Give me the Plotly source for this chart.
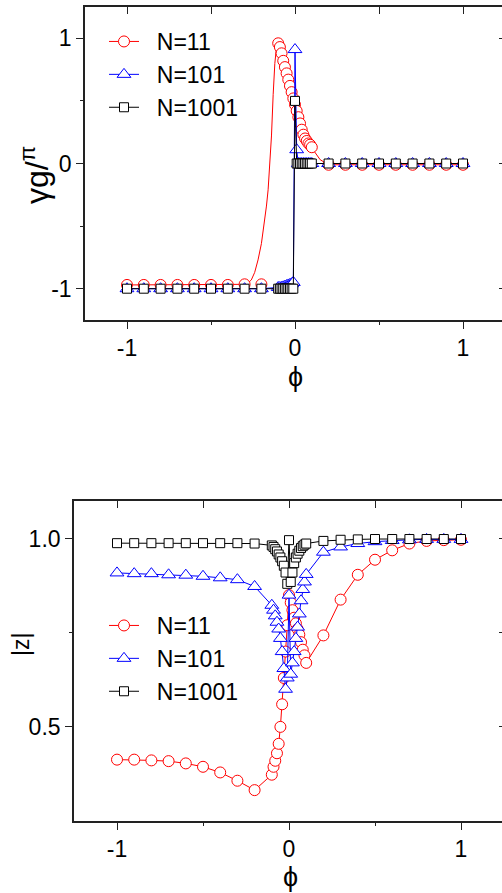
import plotly.graph_objects as go

# ---------------- top panel (gamma_g / pi) ----------------
top11_line_x = [-1.0, -0.9, -0.8, -0.7, -0.6, -0.5, -0.4, -0.3, -0.28, -0.26, -0.24, -0.22, -0.20,
                -0.19, -0.18, -0.17, -0.16, -0.15, -0.14, -0.13, -0.12, -0.11,
                -0.10, -0.09, -0.08, -0.07, -0.06, -0.05, -0.04, -0.03, -0.02, -0.01, 0.0,
                0.01, 0.02, 0.03, 0.04, 0.05, 0.06, 0.07, 0.08, 0.09, 0.10, 0.12, 0.15,
                0.2, 0.3, 0.4, 0.5, 0.6, 0.7, 0.8, 0.9, 1.0]
top11_line_y = [-0.97, -0.97, -0.97, -0.97, -0.97, -0.97, -0.97, -0.965, -0.955, -0.93, -0.87, -0.77, -0.64,
                -0.55, -0.45, -0.34, -0.21, -0.02, 0.22, 0.55, 0.80, 0.93,
                0.96, 0.93, 0.88, 0.82, 0.77, 0.72, 0.67, 0.62, 0.57, 0.52, 0.47,
                0.42, 0.37, 0.32, 0.27, 0.23, 0.20, 0.18, 0.16, 0.15, 0.13, 0.08, 0.03,
                -0.01, -0.01, -0.01, -0.01, -0.01, -0.01, -0.01, -0.01, -0.01]

top11_x = [-1.0, -0.9, -0.8, -0.7, -0.6, -0.5, -0.4, -0.3, -0.2,
           -0.10, -0.09, -0.08, -0.07, -0.06, -0.05, -0.04, -0.03, -0.02, -0.01, 0.0,
           0.01, 0.02, 0.03, 0.04, 0.05, 0.06, 0.07, 0.08, 0.09, 0.10,
           0.2, 0.3, 0.4, 0.5, 0.6, 0.7, 0.8, 0.9, 1.0]
top11_y = [-0.97, -0.97, -0.97, -0.97, -0.97, -0.97, -0.97, -0.965, -0.965,
           0.96, 0.93, 0.88, 0.82, 0.77, 0.72, 0.67, 0.62, 0.57, 0.52, 0.47,
           0.42, 0.37, 0.32, 0.27, 0.23, 0.20, 0.18, 0.16, 0.15, 0.13,
           -0.01, -0.01, -0.01, -0.01, -0.01, -0.01, -0.01, -0.01, -0.01]

top101_x = [-1.0, -0.9, -0.8, -0.7, -0.6, -0.5, -0.4, -0.3, -0.2, -0.1,
            -0.09, -0.08, -0.07, -0.06, -0.05, -0.04, -0.03, -0.02, -0.01, 0.0,
            0.01, 0.02, 0.03, 0.04, 0.05, 0.06, 0.07, 0.08, 0.09, 0.1,
            0.2, 0.3, 0.4, 0.5, 0.6, 0.7, 0.8, 0.9, 1.0]
top101_y = [-1.0, -1.0, -1.0, -1.0, -1.0, -1.0, -1.0, -1.0, -1.0, -0.99,
            -0.99, -0.99, -0.985, -0.98, -0.975, -0.97, -0.965, -0.96, -0.95, 0.91,
            0.11, 0.0, 0.0, 0.0, 0.0, 0.0, 0.0, 0.0, 0.0, 0.0,
            0.0, 0.0, 0.0, 0.0, 0.0, 0.0, 0.0, 0.0, 0.0]

top1001_x = [-1.0, -0.9, -0.8, -0.7, -0.6, -0.5, -0.4, -0.3, -0.2,
             -0.1, -0.09, -0.08, -0.07, -0.06, -0.05, -0.04, -0.03, -0.02, -0.01, 0.0,
             0.01, 0.02, 0.03, 0.04, 0.05, 0.06, 0.07, 0.08, 0.09, 0.1,
             0.2, 0.3, 0.4, 0.5, 0.6, 0.7, 0.8, 0.9, 1.0]
top1001_y = [-1.0, -1.0, -1.0, -1.0, -1.0, -1.0, -1.0, -1.0, -1.0,
             -1.0, -1.0, -1.0, -1.0, -1.0, -1.0, -1.0, -1.0, -1.0, -1.0, 0.5,
             0.0, 0.0, 0.0, 0.0, 0.0, 0.0, 0.0, 0.0, 0.0, 0.0,
             0.0, 0.0, 0.0, 0.0, 0.0, 0.0, 0.0, 0.0, 0.0]

# ---------------- bottom panel (|z|) ----------------
phi = [-1.0, -0.9, -0.8, -0.7, -0.6, -0.5, -0.4, -0.3, -0.2,
       -0.10, -0.09, -0.08, -0.07, -0.06, -0.05, -0.04, -0.03, -0.02, -0.01, 0.0,
       0.01, 0.02, 0.03, 0.04, 0.05, 0.06, 0.07, 0.08, 0.09, 0.10,
       0.2, 0.3, 0.4, 0.5, 0.6, 0.7, 0.8, 0.9, 1.0]
z11 = [0.413, 0.413, 0.411, 0.409, 0.403, 0.394, 0.379, 0.357, 0.332,
       0.373, 0.394, 0.410, 0.430, 0.455, 0.500, 0.560, 0.630, 0.700, 0.770, 0.850,
       0.830, 0.810, 0.790, 0.775, 0.760, 0.745, 0.725, 0.705, 0.690, 0.670,
       0.743, 0.838, 0.904, 0.944, 0.969, 0.987, 0.994, 0.996, 0.997]
z101 = [0.909, 0.907, 0.907, 0.904, 0.903, 0.900, 0.896, 0.891, 0.873,
        0.823, 0.810, 0.795, 0.778, 0.760, 0.735, 0.700, 0.655, 0.600, 0.630, 0.850,
        0.640, 0.670, 0.700, 0.735, 0.765, 0.800, 0.835, 0.865, 0.885, 0.905,
        0.964, 0.978, 0.987, 0.992, 0.995, 0.997, 0.998, 0.998, 0.998]
z1001 = [0.988, 0.988, 0.988, 0.988, 0.988, 0.988, 0.988, 0.988, 0.987,
         0.982, 0.978, 0.972, 0.966, 0.958, 0.950, 0.940, 0.928, 0.910, 0.880, 0.996,
         0.885, 0.910, 0.935, 0.950, 0.960, 0.968, 0.975, 0.980, 0.984, 0.987,
         0.994, 0.997, 0.998, 0.999, 0.999, 0.999, 0.999, 0.999, 0.999]

labels = ["N=11", "N=101", "N=1001"]
colors = ["#ff0000", "#0000ff", "#000000"]
symbols = ["circle", "triangle-up", "square"]
msizes = [11, 12, 9]

W, H = 502, 893
FONT = "Arial, Liberation Sans, sans-serif"
AX = "#222222"
PAD = "\u00a0\u00a0"

fig = go.Figure()

def mk(i):
    return dict(symbol=symbols[i], size=msizes[i], color="white",
                line=dict(color=colors[i], width=1))

# top panel
fig.add_trace(go.Scatter(x=top11_line_x, y=top11_line_y, mode="lines",
                         line=dict(color=colors[0], width=1), showlegend=False,
                         xaxis="x", yaxis="y"))
fig.add_trace(go.Scatter(x=top11_x, y=top11_y, mode="markers", marker=mk(0),
                         showlegend=False, xaxis="x", yaxis="y"))
fig.add_trace(go.Scatter(x=top101_x, y=top101_y, mode="lines+markers", marker=mk(1),
                         line=dict(color=colors[1], width=1), showlegend=False,
                         xaxis="x", yaxis="y"))
fig.add_trace(go.Scatter(x=top1001_x, y=top1001_y, mode="lines+markers", marker=mk(2),
                         line=dict(color=colors[2], width=1), showlegend=False,
                         xaxis="x", yaxis="y"))
# legend entries (top)
for i in range(3):
    fig.add_trace(go.Scatter(x=[None], y=[None], mode="lines+markers", name=PAD + labels[i],
                             marker=mk(i), line=dict(color=colors[i], width=1),
                             xaxis="x", yaxis="y", legend="legend"))

# bottom panel
for i, zz in enumerate([z11, z101, z1001]):
    fig.add_trace(go.Scatter(x=phi, y=zz, mode="lines+markers", name=PAD + labels[i],
                             marker=mk(i), line=dict(color=colors[i], width=1),
                             xaxis="x2", yaxis="y2", legend="legend2"))

# dummy traces to activate mirror axes
fig.add_trace(go.Scatter(x=[None], y=[None], xaxis="x3", yaxis="y", showlegend=False, hoverinfo="skip"))
fig.add_trace(go.Scatter(x=[None], y=[None], xaxis="x", yaxis="y3", showlegend=False, hoverinfo="skip"))
fig.add_trace(go.Scatter(x=[None], y=[None], xaxis="x4", yaxis="y2", showlegend=False, hoverinfo="skip"))
fig.add_trace(go.Scatter(x=[None], y=[None], xaxis="x2", yaxis="y4", showlegend=False, hoverinfo="skip"))

tickfont = dict(family=FONT, size=23, color="black")
base = dict(showgrid=False, zeroline=False, showline=True, linecolor=AX, linewidth=1.6,
            ticks="outside", ticklen=7, tickwidth=1.4, tickcolor=AX, tickfont=tickfont)

top_dom_y = [(H - 320) / H, (H - 7) / H]
bot_dom_y = [(H - 821) / H, (H - 501) / H]
top_xr = [-1.25, -1.25 + (W - 85) / 168.0]
bot_xr = [-1.25, -1.25 + (W - 74) / 172.0]

legfont = dict(family=FONT, size=23, color="black")

fig.update_layout(
    width=W, height=H, margin=dict(l=0, r=0, t=0, b=0),
    paper_bgcolor="white", plot_bgcolor="white",
    xaxis=dict(base, domain=[85 / W, 1], range=top_xr, anchor="y",
               tickvals=[-1, 0, 1], ticktext=["-1", "0", "1"],
               minor=dict(ticks="outside", ticklen=3.5, tickwidth=1.2, tickcolor=AX, tickvals=[-0.5, 0.5])),
    yaxis=dict(base, domain=top_dom_y, range=[-1.25, 1.25], anchor="x",
               tickvals=[-1, 0, 1], ticktext=["-1", "0", "1"],
               minor=dict(ticks="outside", ticklen=3.5, tickwidth=1.2, tickcolor=AX, tickvals=[-0.5, 0.5])),
    xaxis3=dict(showgrid=False, zeroline=False, showline=True, linecolor=AX, linewidth=1.6,
                overlaying="x", anchor="y", side="top", range=top_xr,
                ticks="inside", ticklen=7, tickwidth=1.4, tickcolor=AX,
                tickvals=[-1, -0.5, 0, 0.5, 1], showticklabels=False),
    yaxis3=dict(showgrid=False, zeroline=False, showline=False,
                overlaying="y", anchor="x", side="right", range=[-1.25, 1.25],
                ticks="inside", ticklen=3, tickwidth=1.4, tickcolor=AX,
                tickvals=[-1, 0, 1], showticklabels=False),
    xaxis2=dict(base, domain=[74 / W, 1], range=bot_xr, anchor="y2",
                tickvals=[-1, 0, 1], ticktext=["-1", "0", "1"],
                minor=dict(ticks="outside", ticklen=3.5, tickwidth=1.2, tickcolor=AX, tickvals=[-0.5, 0.5])),
    yaxis2=dict(base, domain=bot_dom_y, range=[0.25, 1.1], anchor="x2",
                tickvals=[0.5, 1.0], ticktext=["0.5", "1.0"],
                minor=dict(ticks="outside", ticklen=3.5, tickwidth=1.2, tickcolor=AX, tickvals=[0.75])),
    xaxis4=dict(showgrid=False, zeroline=False, showline=True, linecolor=AX, linewidth=1.6,
                overlaying="x2", anchor="y2", side="top", range=bot_xr,
                ticks="inside", ticklen=7, tickwidth=1.4, tickcolor=AX,
                tickvals=[-1, -0.5, 0, 0.5, 1], showticklabels=False),
    yaxis4=dict(showgrid=False, zeroline=False, showline=False,
                overlaying="y2", anchor="x2", side="right", range=[0.25, 1.1],
                ticks="inside", ticklen=3, tickwidth=1.4, tickcolor=AX,
                tickvals=[0.5, 0.75, 1.0], showticklabels=False),
    legend=dict(x=104 / W, y=(H - 20) / H, xanchor="left", yanchor="top",
                bgcolor="rgba(0,0,0,0)", font=legfont,
                itemclick=False, itemdoubleclick=False),
    legend2=dict(x=104 / W, y=(H - 604) / H, xanchor="left", yanchor="top",
                 bgcolor="rgba(0,0,0,0)", font=legfont,
                 itemclick=False, itemdoubleclick=False),
    showlegend=True,
)

fig.add_annotation(text="γg/<sup>π</sup>", xref="paper", yref="paper",
                   x=35 / W, y=(H - 175) / H, xanchor="center", yanchor="middle",
                   showarrow=False, textangle=-90,
                   font=dict(family=FONT, size=32, color="black"))
fig.add_annotation(text="ϕ", xref="paper", yref="paper",
                   x=295 / W, y=(H - 377) / H, xanchor="center", yanchor="middle",
                   showarrow=False, font=dict(family=FONT, size=27, color="black"))
fig.add_annotation(text="|z|", xref="paper", yref="paper",
                   x=21 / W, y=(H - 645) / H, xanchor="center", yanchor="middle",
                   showarrow=False, textangle=-90,
                   font=dict(family=FONT, size=23, color="black"))
fig.add_annotation(text="ϕ", xref="paper", yref="paper",
                   x=290 / W, y=(H - 877) / H, xanchor="center", yanchor="middle",
                   showarrow=False, font=dict(family=FONT, size=27, color="black"))

fig.write_html("out.html", config={"displayModeBar": False},
               post_script="document.body.style.margin='0';document.body.style.overflow='hidden';")
